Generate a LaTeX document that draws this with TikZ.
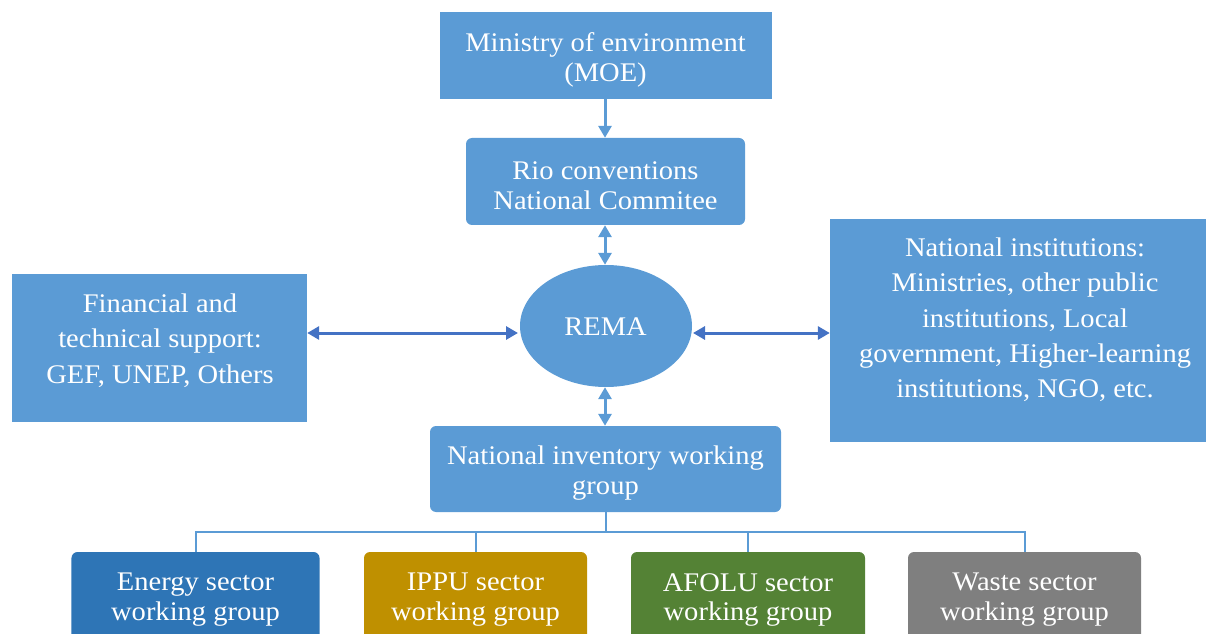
\documentclass[tikz,border=0pt]{standalone}
\usepackage{fontspec}
\setmainfont{Liberation Serif}[FakeStretch=1.06]
\usetikzlibrary{arrows.meta,shapes.geometric}
\definecolor{boxblue}{HTML}{5B9BD5}
\definecolor{arrblue}{HTML}{4472C4}
\definecolor{energyc}{HTML}{2E75B6}
\definecolor{ippuc}{HTML}{BF9000}
\definecolor{afoluc}{HTML}{548235}
\definecolor{wastec}{HTML}{7F7F7F}
\tikzset{
  box/.style={fill=boxblue, draw=none, inner sep=0pt},
  rbox/.style={box, rounded corners=6bp},
  txt/.style={inner sep=0pt, text=white, align=center, font=\fontsize{27}{30}\selectfont},
  sidetext/.style={txt, font=\fontsize{27}{35.5}\selectfont},
  sector/.style={rbox, minimum height=88bp},
  varr/.style={draw=boxblue, line width=3bp, -{Triangle[width=13bp,length=12bp]}},
  vdarr/.style={draw=boxblue, line width=3bp, {Triangle[width=13bp,length=12bp]}-{Triangle[width=13bp,length=12bp]}},
  hdarr/.style={draw=arrblue, line width=3bp, {Triangle[width=13bp,length=12bp]}-{Triangle[width=13bp,length=12bp]}},
  tree/.style={draw=boxblue, line width=2bp}
}
\begin{document}
\begin{tikzpicture}[x=1bp,y=-1bp]
\useasboundingbox (0,0) rectangle (1206,634);
\clip (0,0) rectangle (1206,634);
\node[box, minimum width=332bp, minimum height=87bp] (moe) at (606,55.5) {};
\node[txt] (moet) at (605.5,59.5) {Ministry of environment\\(MOE)};
\node[rbox, minimum width=279bp, minimum height=87bp] (rio) at (605.5,181.5) {};
\node[txt] (riot) at (605.5,185.5) {Rio conventions\\National Commitee};
\node[ellipse, fill=boxblue, inner sep=0pt, minimum width=172bp, minimum height=122bp] (rema) at (606,326) {};
\node[txt] (remat) at (605.5,327) {REMA};
\node[box, minimum width=295bp, minimum height=148bp] (left) at (159.5,348) {};
\node[sidetext] (lefttext) at (160,340.5) {Financial and\\technical support:\\GEF, UNEP, Others};
\node[box, minimum width=392bp, minimum height=223bp] (right) at (1026,330.5) {};
\node[sidetext] (righttext) at (1025,320) {National institutions:\\Ministries, other public\\institutions, Local\\government, Higher-learning\\institutions, NGO, etc.};
\node[rbox, minimum width=351bp, minimum height=86bp] (niwg) at (605.5,469) {};
\node[txt] (niwgt) at (605.5,473.5) {National inventory working\\group};
\node[sector, fill=energyc, minimum width=248bp] (energy) at (195.5,596) {};
\node[txt] (energyt) at (195.5,600) {Energy sector\\working group};
\node[sector, fill=ippuc, minimum width=223bp] (ippu) at (475.5,596) {};
\node[txt] (ipput) at (475.5,600) {IPPU sector\\working group};
\node[sector, fill=afoluc, minimum width=234bp] (afolu) at (748,596) {};
\node[txt] (afolut) at (748,600) {AFOLU sector\\working group};
\node[sector, fill=wastec, minimum width=233bp] (waste) at (1024.5,596) {};
\node[txt] (wastet) at (1024.5,600) {Waste sector\\working group};
\draw[varr] (moe.south -| 605,0) -- (rio.north -| 605,0);
\draw[vdarr] (rio.south -| 605,0) -- (rema.north -| 605,0);
\draw[vdarr] (rema.south -| 605,0) -- (niwg.north -| 605,0);
\draw[hdarr] (left.east |- 0,333) -- (518,333) coordinate (remaw);
\draw[hdarr] (693,333) coordinate (remae) -- (right.west |- 0,333);
\coordinate (bar) at (605.5,532);
\draw[tree] (niwg.south) -- (bar);
\foreach \b in {energy,ippu,afolu,waste}{\draw[tree] (bar) -| (\b.north);}
\end{tikzpicture}
\end{document}
